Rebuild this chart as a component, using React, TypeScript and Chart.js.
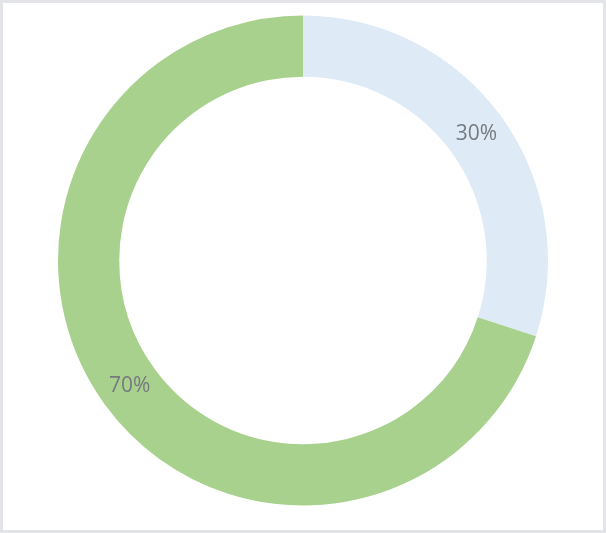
import { useEffect, useRef } from "react";
import Chart from "chart.js/auto";

const labels = ["A", "B"];
const values = [30, 70];
const colors = ["#deebf7", "#a9d18e"];

const percentLabels = {
  id: "percentLabels",
  afterDatasetsDraw(chart: Chart) {
    const { ctx } = chart;
    const meta = chart.getDatasetMeta(0);
    const total = values.reduce((a, b) => a + b, 0);
    ctx.save();
    ctx.font = '21px "Open Sans"';
    ctx.fillStyle = "#767a7f";
    ctx.textAlign = "center";
    ctx.textBaseline = "middle";
    meta.data.forEach((arc: any, i: number) => {
      const pos = arc.tooltipPosition(false);
      const pct = Math.round((values[i] / total) * 100) + "%";
      ctx.fillText(pct, pos.x, pos.y);
    });
    ctx.restore();
  },
};

const App = () => {
  const chartRef = useRef<HTMLCanvasElement>(null);

  useEffect(() => {
    const ctx = chartRef.current?.getContext("2d");
    if (!ctx) return;

    const chart = new Chart(ctx, {
      type: "doughnut",
      data: {
        labels,
        datasets: [
          {
            data: values,
            backgroundColor: colors,
            borderWidth: 0,
          },
        ],
      },
      options: {
        animation: false,
        responsive: true,
        maintainAspectRatio: false,
        cutout: "75%",
        layout: {
          padding: { left: 58, right: 58, top: 15, bottom: 27 },
        },
        plugins: {
          legend: { display: false },
          tooltip: { enabled: false },
        },
      },
      plugins: [percentLabels],
    });

    return () => {
      chart.destroy();
    };
  }, []);

  return (
    <div
      style={{
        position: "absolute",
        left: 0,
        top: 0,
        width: 606,
        height: 533,
        background: "#ffffff",
      }}
    >
      <div style={{ position: "absolute", inset: 0 }}>
        <canvas ref={chartRef} />
      </div>
      <div
        style={{
          position: "absolute",
          inset: 0,
          border: "3px solid #e2e4e7",
          boxSizing: "border-box",
          pointerEvents: "none",
        }}
      />
    </div>
  );
};

export default App;
